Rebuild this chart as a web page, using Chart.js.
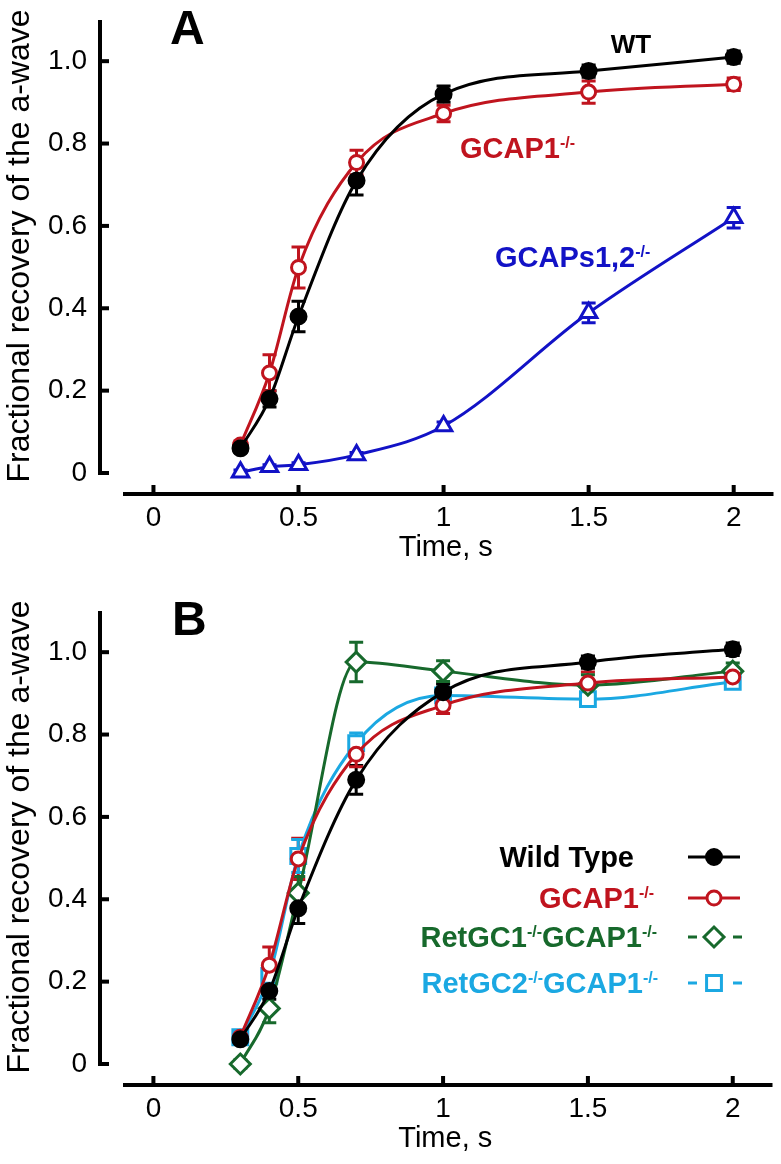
<!DOCTYPE html>
<html>
<head>
<meta charset="utf-8">
<script src="https://cdn.jsdelivr.net/npm/chart.js@4.4.1/dist/chart.umd.min.js"></script>
<style>
  body { margin: 0; background: #fff; }
  canvas { display: block; }
</style>
</head>
<body>
<canvas id="chartA" width="781" height="591"></canvas>
<canvas id="chartB" width="781" height="573"></canvas>
<script>
const times = [0.3, 0.4, 0.5, 0.7, 1.0, 1.5, 2.0];
const xTicks = [0, 0.5, 1, 1.5, 2];
const xTickLabels = ['0', '0.5', '1', '1.5', '2'];
const yTicks = [0, 0.2, 0.4, 0.6, 0.8, 1.0];
const yTickLabels = ['0', '0.2', '0.4', '0.6', '0.8', '1.0'];

// panel A
const wtA = [0.06, 0.18, 0.38, 0.71, 0.92, 0.976, 1.01];
const wtErrA = [0.01, 0.02, 0.037, 0.035, 0.02, 0.015, 0.015];
const gcap1A = [0.068, 0.243, 0.499, 0.754, 0.873, 0.925, 0.944];
const gcap1ErrA = [0.01, 0.044, 0.05, 0.03, 0.02, 0.027, 0.015];
const gcapsA = [0.002, 0.015, 0.02, 0.044, 0.114, 0.389, 0.62];
const gcapsErrA = [0.005, 0.005, 0.005, 0.006, 0.01, 0.024, 0.025];

// panel B
const wtB = [0.06, 0.177, 0.378, 0.69, 0.903, 0.976, 1.007];
const wtErrB = [0.01, 0.02, 0.037, 0.035, 0.02, 0.015, 0.015];
const gcap1B = [0.065, 0.24, 0.498, 0.752, 0.871, 0.925, 0.94];
const gcap1ErrB = [0.01, 0.044, 0.05, 0.03, 0.02, 0.027, 0.015];
const retgc1B = [0.0, 0.135, 0.415, 0.976, 0.954, 0.92, 0.954];
const retgc1ErrB = [0.01, 0.035, 0.04, 0.048, 0.025, 0.025, 0.02];
const retgc2B = [0.065, 0.214, 0.505, 0.779, 0.895, 0.886, 0.928];
const retgc2ErrB = [0.01, 0.02, 0.04, 0.025, 0.02, 0.015, 0.015];

const FONT = '"Liberation Sans", Arial, Helvetica, sans-serif';
const BLACK = '#000000';
const RED = '#c0141e';
const BLUE = '#1212c6';
const GREEN = '#17692c';
const LIGHTBLUE = '#1ba8e2';

const toPoints = vals => times.map((t, i) => ({ x: t, y: vals[i] }));

function series(vals, errs, color, style, radius, fillColor) {
  return {
    data: toPoints(vals),
    errors: errs,
    borderColor: color,
    borderWidth: 3,
    pointStyle: style,
    pointRadius: radius,
    pointBorderWidth: 3,
    pointBorderColor: color,
    pointBackgroundColor: fillColor,
    cubicInterpolationMode: 'monotone',
    fill: false,
    clip: false,
  };
}

// text with superscripts, parts = [[text, isSup], ...]
function richText(ctx, parts, x, y, size, color, align) {
  ctx.save();
  ctx.fillStyle = color;
  ctx.textBaseline = 'alphabetic';
  ctx.textAlign = 'left';
  const supSize = Math.round(size * 0.55);
  let total = 0;
  parts.forEach(([t, sup]) => {
    ctx.font = 'bold ' + (sup ? supSize : size) + 'px ' + FONT;
    total += ctx.measureText(t).width;
  });
  let cx = align === 'right' ? x - total : align === 'center' ? x - total / 2 : x;
  parts.forEach(([t, sup]) => {
    ctx.font = 'bold ' + (sup ? supSize : size) + 'px ' + FONT;
    ctx.fillText(t, cx, sup ? y - size * 0.33 : y);
    cx += ctx.measureText(t).width;
  });
  ctx.restore();
}

const errorBars = {
  id: 'errorBars',
  beforeDatasetsDraw(chart) {
    const ctx = chart.ctx;
    const xs = chart.scales.x;
    const ys = chart.scales.y;
    ctx.save();
    chart.data.datasets.forEach(ds => {
      ctx.strokeStyle = ds.borderColor;
      ctx.lineWidth = 3;
      ds.data.forEach((p, i) => {
        const e = ds.errors[i];
        const px = xs.getPixelForValue(p.x);
        const top = ys.getPixelForValue(p.y + e);
        const bot = ys.getPixelForValue(p.y - e);
        ctx.beginPath();
        ctx.moveTo(px, top); ctx.lineTo(px, bot);
        ctx.moveTo(px - 7, top); ctx.lineTo(px + 7, top);
        ctx.moveTo(px - 7, bot); ctx.lineTo(px + 7, bot);
        ctx.stroke();
      });
    });
    ctx.restore();
  }
};

const axes = {
  id: 'axes',
  afterDraw(chart) {
    const ctx = chart.ctx;
    const area = chart.chartArea;
    const xs = chart.scales.x;
    const ys = chart.scales.y;
    ctx.save();
    ctx.fillStyle = BLACK;
    // detached y axis, ticks pointing inwards
    const ax = area.left - 23;
    const yTop = ys.getPixelForValue(1.1);
    const yBot = ys.getPixelForValue(0) + 2;
    ctx.fillRect(ax - 2, yTop, 4, yBot - yTop);
    yTicks.forEach(v => {
      ctx.fillRect(ax, ys.getPixelForValue(v) - 2, 9, 4);
    });
    // x axis
    const ay = area.bottom;
    ctx.fillRect(area.left, ay - 2, area.right + 5 - area.left, 4);
    xTicks.forEach(v => {
      ctx.fillRect(xs.getPixelForValue(v) - 2, ay - 9, 4, 9);
    });
    // y title
    ctx.translate(20, 246);
    ctx.rotate(-Math.PI / 2);
    ctx.font = '32px ' + FONT;
    ctx.textAlign = 'center';
    ctx.textBaseline = 'middle';
    ctx.fillText('Fractional recovery of the a-wave', 0, 0);
    ctx.restore();
  }
};

function panelLetter(ctx, letter, x) {
  ctx.save();
  ctx.fillStyle = BLACK;
  ctx.font = 'bold 48px ' + FONT;
  ctx.fillText(letter, x, 44);
  ctx.restore();
}

function options(bottomPad) {
  return {
    responsive: false,
    animation: false,
    layout: { padding: { top: 20, right: 5, bottom: bottomPad, left: 0 } },
    plugins: {
      legend: { display: false },
      tooltip: { enabled: false },
    },
    scales: {
      x: {
        type: 'linear',
        min: -0.105,
        max: 2.12,
        afterFit: s => { s.height = 79; s.paddingLeft = 0; s.paddingRight = 0; },
        afterBuildTicks: s => { s.ticks = xTicks.map(v => ({ value: v })); },
        grid: { display: false, drawTicks: false },
        border: { display: false },
        ticks: {
          callback: (v, i) => xTickLabels[i],
          padding: 7,
          maxRotation: 0,
          autoSkip: false,
          color: BLACK,
          font: { family: FONT, size: 28 },
        },
        title: {
          display: true,
          text: 'Time, s',
          color: BLACK,
          font: { family: FONT, size: 29 },
          padding: { top: 0, bottom: 8 },
        },
      },
      y: {
        min: -0.051,
        max: 1.1,
        afterFit: s => { s.width = 123; s.paddingTop = 0; s.paddingBottom = 0; },
        afterBuildTicks: s => { s.ticks = yTicks.map(v => ({ value: v })); },
        grid: { display: false, drawTicks: false },
        border: { display: false },
        ticks: {
          callback: (v, i) => yTickLabels[i],
          padding: 36,
          color: BLACK,
          font: { family: FONT, size: 28 },
        },
      },
    },
  };
}

const labelsA = {
  id: 'labelsA',
  afterDraw(chart) {
    const ctx = chart.ctx;
    panelLetter(ctx, 'A', 170);
    richText(ctx, [['WT', false]], 631, 53, 26, BLACK, 'center');
    richText(ctx, [['GCAP1', false], ['-/-', true]], 460, 158, 29, RED, 'left');
    richText(ctx, [['GCAPs1,2', false], ['-/-', true]], 495, 267, 29, BLUE, 'left');
  }
};

new Chart(document.getElementById('chartA'), {
  type: 'line',
  data: {
    datasets: [
      series(wtA, wtErrA, BLACK, 'circle', 7.5, BLACK),
      series(gcap1A, gcap1ErrA, RED, 'circle', 7, '#ffffff'),
      series(gcapsA, gcapsErrA, BLUE, 'triangle', 9.5, '#ffffff'),
    ],
  },
  options: options(18),
  plugins: [errorBars, axes, labelsA],
});

const legendB = [
  { parts: [['Wild Type', false]], right: 634, cy: 266, dashed: false },
  { parts: [['GCAP1', false], ['-/-', true]], right: 654, cy: 307, dashed: false },
  { parts: [['RetGC1', false], ['-/-', true], ['GCAP1', false], ['-/-', true]], right: 657, cy: 346, dashed: true },
  { parts: [['RetGC2', false], ['-/-', true], ['GCAP1', false], ['-/-', true]], right: 658, cy: 392, dashed: true },
];

const labelsB = {
  id: 'labelsB',
  afterDraw(chart) {
    const ctx = chart.ctx;
    panelLetter(ctx, 'B', 172);
    legendB.forEach((item, i) => {
      const ds = chart.data.datasets[i];
      richText(ctx, item.parts, item.right, item.cy + 10, 29, ds.borderColor, 'right');
      ctx.save();
      ctx.strokeStyle = ds.borderColor;
      ctx.lineWidth = 3;
      ctx.beginPath();
      if (item.dashed) {
        ctx.moveTo(688, item.cy); ctx.lineTo(697, item.cy);
        ctx.moveTo(733, item.cy); ctx.lineTo(742, item.cy);
      } else {
        ctx.moveTo(688, item.cy); ctx.lineTo(740, item.cy);
      }
      ctx.stroke();
      ctx.fillStyle = ds.pointBackgroundColor;
      Chart.helpers.drawPoint(ctx, {
        pointStyle: ds.pointStyle,
        radius: ds.pointRadius,
        borderWidth: 3,
        rotation: 0,
      }, 714, item.cy);
      ctx.restore();
    });
  }
};

new Chart(document.getElementById('chartB'), {
  type: 'line',
  data: {
    datasets: [
      series(wtB, wtErrB, BLACK, 'circle', 7.5, BLACK),
      series(gcap1B, gcap1ErrB, RED, 'circle', 7, '#ffffff'),
      series(retgc1B, retgc1ErrB, GREEN, 'rectRot', 10, '#ffffff'),
      series(retgc2B, retgc2ErrB, LIGHTBLUE, 'rect', 10.5, '#ffffff'),
    ],
  },
  options: options(0),
  plugins: [errorBars, axes, labelsB],
});
</script>
</body>
</html>
